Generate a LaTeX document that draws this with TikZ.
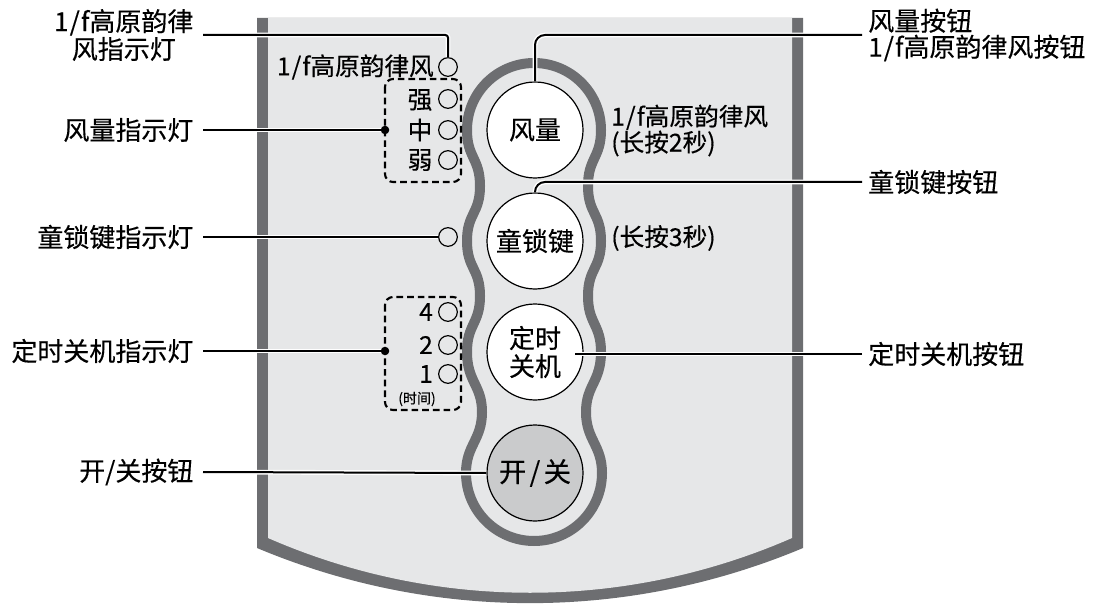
\documentclass[tikz,border=0pt]{standalone}
\usepackage{fontspec}
\newfontfamily\cjk[FakeBold=0.35]{Noto Sans CJK SC}
\definecolor{panel}{HTML}{E6E7E8}
\definecolor{rim}{HTML}{6D6E71}
\definecolor{onoff}{HTML}{CACBCC}
\newcommand{\onef}{1\kern0.8pt/\kern0.8pt f}
\begin{document}
\begin{tikzpicture}[x=0.75pt,y=-0.75pt,
  lbl/.style={font=\cjk\fontsize{19.5}{19.5}\selectfont, inner xsep=7pt, inner ysep=0pt},
  ptxt/.style={font=\cjk\fontsize{18.5}{19.5}\selectfont, inner sep=0pt},
  btn/.style={circle, draw=black, line width=0.9pt, fill=white, minimum size=72pt, inner sep=0pt, font=\cjk\fontsize{19.5}{21}\selectfont, align=center},
  lamp/.style={circle, draw=black, line width=0.9pt, minimum size=14pt, inner sep=0pt},
  lead/.style={line width=1.5pt, preaction={draw=white, line width=3.6pt}},
  dashbox/.style={draw=black, line width=1.6pt, dash pattern=on 5pt off 3pt, rounded corners=6pt},
]
\useasboundingbox (0,0) rectangle (1096,606);
% panel
\fill[rim] (257,18) -- (257,548) .. controls (432,621.5) and (628,621.5) .. (803,548) -- (803,18) -- cycle;
\fill[panel] (268,18) -- (268,538) .. controls (435,611) and (625,611) .. (792,538) -- (792,18) -- cycle;
% track
\draw[rim, line width=7.5pt, line join=round] (534,63) arc[start angle=270,end angle=180,radius=67]
  .. controls (467,158) and (480,158) .. (480,186)
  .. controls (480,214) and (467,213) .. (467,241)
  .. controls (467,269) and (480,268) .. (480,296)
  .. controls (480,324) and (467,324) .. (467,352)
  .. controls (467,382) and (482,385) .. (482,412)
  .. controls (482,440) and (466,445) .. (466,473)
  arc[start angle=180,end angle=0,radius=68]
  .. controls (602,445) and (586,440) .. (586,412)
  .. controls (586,385) and (601,382) .. (601,352)
  .. controls (601,324) and (588,324) .. (588,296)
  .. controls (588,268) and (601,269) .. (601,241)
  .. controls (601,213) and (588,214) .. (588,186)
  .. controls (588,158) and (601,158) .. (601,130)
  arc[start angle=0,end angle=-90,radius=67] -- cycle;
% dashed groups
\draw[dashbox] (385,79) rectangle (461,182);
\draw[dashbox] (385,297) rectangle (461,410);
% panel texts
\node[ptxt, anchor=east] (tF) at (434,67) {\onef 高原韵律风};
\node[ptxt] (tS) at (420,100) {强};
\node[ptxt] (tM) at (420,130) {中};
\node[ptxt] (tW) at (420,160) {弱};
\node[ptxt] (t4) at (426,312) {4};
\node[ptxt] (t2) at (426,345) {2};
\node[ptxt] (t1) at (426,374) {1};
\node[font=\cjk\fontsize{10.5}{11}\selectfont, inner sep=0pt] (tTime) at (417,399) {(时间)};
\node[ptxt, anchor=west, align=left] (tA) at (611,130.5) {\onef 高原韵律风\\(长按2秒)};
\node[ptxt, anchor=west] (tB) at (611,238) {(长按3秒)};
% lamps
\node[lamp] (indF) at (448,67) {};
\node[lamp] (ind1) at (448,99) {};
\node[lamp] (ind2) at (448,130) {};
\node[lamp] (ind3) at (448,160) {};
\node[lamp] (indL) at (448,237) {};
\node[lamp] (indT4) at (448,312) {};
\node[lamp] (indT2) at (448,345) {};
\node[lamp] (indT1) at (448,374) {};
% buttons
\node[btn] (btnA) at (535,130) {风量};
\node[btn] (btnB) at (535,241) {童锁键};
\node[btn] (btnC) at (535,352) {定时\\关机};
\node[btn, fill=onoff, font=\cjk\fontsize{20.5}{21}\selectfont] (btnD) at (535,473) {开\kern2.5pt/\kern2.5pt关};
% labels
\node[lbl, anchor=east, align=center] (labF) at (203,35) {\onef 高原韵律\\风指示灯};
\node[lbl, anchor=east] (labW) at (203,130) {风量指示灯};
\node[lbl, anchor=east] (labL) at (203,237) {童锁键指示灯};
\node[lbl, anchor=east] (labT) at (203,351) {定时关机指示灯};
\node[lbl, anchor=east] (labP) at (203,472) {开/关按钮};
\node[lbl, anchor=west, align=left, inner xsep=4.5pt] (labA) at (862,35) {风量按钮\\\onef 高原韵律风按钮};
\node[lbl, anchor=west, inner xsep=4.5pt] (labB) at (862,182) {童锁键按钮};
\node[lbl, anchor=west, inner xsep=4.5pt] (labC) at (862,354) {定时关机按钮};
% anchor points
\coordinate (dW) at (385,130);
\coordinate (dT) at (385,351);
\coordinate (endC) at (575,354);
% leaders
\draw[lead, rounded corners=2pt] (labF.east) -| (indF.north);
\draw[lead] (labW.east) -- (dW);
\draw[lead] (labL.east) -- (indL.west);
\draw[lead] (labT.east) -- (dT);
\draw[lead] (labP.east) -- (btnD.west);
\draw[lead, rounded corners=7.5pt] (labA.west) -| (btnA.north);
\draw[lead, rounded corners=7.5pt] (labB.west) -| (btnB.north);
\draw[lead] (labC.west) -- (endC);
\fill (dW) circle (3.2pt);
\fill (dT) circle (3.2pt);
\end{tikzpicture}
\end{document}
